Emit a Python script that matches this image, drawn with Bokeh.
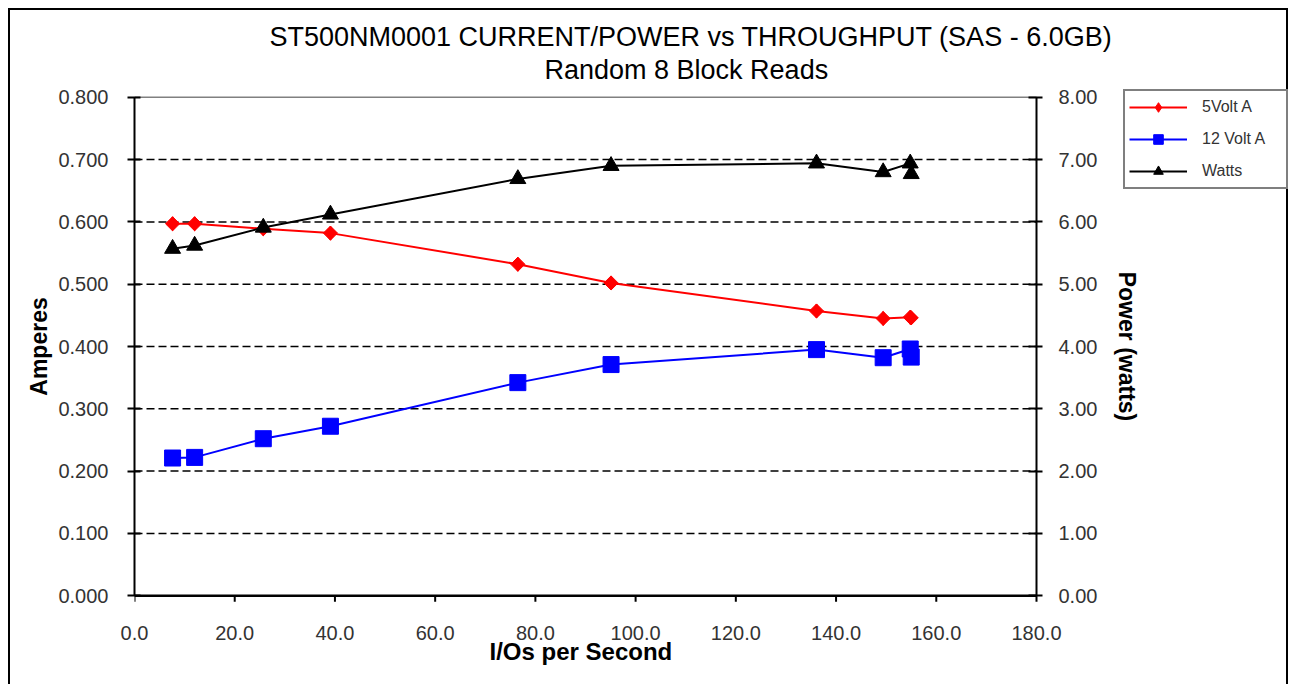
from bokeh.plotting import figure
from bokeh.models import (Range1d, LinearAxis, FixedTicker, NumeralTickFormatter,
                          Legend, LegendItem, Title)
from bokeh.embed import file_html
from bokeh.resources import INLINE

# ---------------- data ----------------
title_line1 = "ST500NM0001 CURRENT/POWER vs THROUGHPUT (SAS - 6.0GB)"
title_line2 = "Random 8 Block Reads"
x_label = "I/Os per Second"
left_label = "Amperes"
right_label = "Power (watts)"

iops = [7.6, 12.0, 25.7, 39.1, 76.5, 95.1, 136.1, 149.4, 154.8, 155.0]
volt5_amps = [0.597, 0.597, 0.589, 0.582, 0.532, 0.502, 0.457, 0.445, 0.447, 0.446]
volt12_amps = [0.221, 0.222, 0.252, 0.272, 0.342, 0.371, 0.395, 0.382, 0.396, 0.383]
watts = [5.57, 5.62, 5.91, 6.12, 6.69, 6.90, 6.94, 6.80, 6.94, 6.77]

series_names = ["5Volt A", "12 Volt A", "Watts"]

x_ticks = [0, 20, 40, 60, 80, 100, 120, 140, 160, 180]
amp_ticks = [0.0, 0.1, 0.2, 0.3, 0.4, 0.5, 0.6, 0.7, 0.8]
amp_grid = [0.1, 0.2, 0.3, 0.4, 0.5, 0.6, 0.7]
watt_ticks = [0, 1, 2, 3, 4, 5, 6, 7, 8]

FONT = "Liberation Sans"

X_MIN, X_MAX = x_ticks[0], x_ticks[-1]
Y_MIN, Y_MAX = amp_ticks[0], amp_ticks[-1]
W_MIN, W_MAX = watt_ticks[0], watt_ticks[-1]

# layout (pixels)
WIDTH, HEIGHT = 1280, 676
B_LEFT, B_RIGHT, B_TOP, B_BOTTOM = 124, 2, 75, 79
FRAME_W = WIDTH - B_LEFT - B_RIGHT
FRAME_H = HEIGHT - B_TOP - B_BOTTOM
DATA_W, DATA_H = 902, 498.4

# the drawable frame is larger than the data box so that the legend and the
# right-hand axis labels (placed at x = 180) are not clipped
x_end = X_MIN + (X_MAX - X_MIN) * FRAME_W / DATA_W
y_pad = (Y_MAX - Y_MIN) * (FRAME_H / DATA_H - 1) / 2
w_pad = y_pad * (W_MAX - W_MIN) / (Y_MAX - Y_MIN)
tick_len = 6 * (Y_MAX - Y_MIN) / DATA_H

p = figure(width=WIDTH, height=HEIGHT,
           x_range=Range1d(X_MIN, x_end), y_range=Range1d(Y_MIN - y_pad, Y_MAX + y_pad),
           output_backend="svg", toolbar_location=None,
           min_border_left=B_LEFT, min_border_right=B_RIGHT,
           min_border_top=B_TOP, min_border_bottom=B_BOTTOM,
           title=title_line1)
p.extra_y_ranges = {"watts": Range1d(W_MIN - w_pad, W_MAX + w_pad)}

p.styles = {"margin-left": "8px", "margin-top": "8px",
            "border-top": "2px solid black", "border-left": "2px solid black",
            "border-right": "2px solid black"}

# titles: added titles stack outward from the frame in the order added
p.title.text_font = FONT
p.title.text_font_size = "27px"
p.title.text_font_style = "normal"
p.title.text_color = "black"
p.title.align = "left"
p.title.offset = 135
p.title.standoff = 0
t2 = Title(text=title_line2, text_font=FONT, text_font_size="27px",
           text_font_style="normal", text_color="black", align="left",
           offset=410, standoff=2)
p.add_layout(t2, "above")

p.outline_line_color = None
p.background_fill_color = "white"
p.border_fill_color = "white"

# grid (only across the data box)
p.xgrid.visible = False
p.ygrid.visible = False
n = len(amp_grid)
p.segment(x0=[X_MIN] * n, y0=amp_grid, x1=[X_MAX] * n, y1=amp_grid,
          line_color="black", line_dash="8 4", line_width=1.5)
p.segment(x0=[X_MIN], y0=[Y_MAX], x1=[X_MAX], y1=[Y_MAX],
          line_color="#808080", line_width=1.5)

# x axis line and tick marks at y = 0
p.segment(x0=[X_MIN], y0=[Y_MIN], x1=[X_MAX], y1=[Y_MIN],
          line_color="black", line_width=2.5)
m = len(x_ticks)
p.segment(x0=x_ticks, y0=[Y_MIN] * m, x1=x_ticks, y1=[Y_MIN - tick_len] * m,
          line_color="black", line_width=2)

# axes
xa = p.xaxis[0]
xa.ticker = FixedTicker(ticks=x_ticks)
xa.formatter = NumeralTickFormatter(format="0.0")
xa.axis_line_color = None
ya = p.yaxis[0]
ya.ticker = FixedTicker(ticks=amp_ticks)
ya.formatter = NumeralTickFormatter(format="0.000")
ya.axis_label = left_label
ya.bounds = (Y_MIN, Y_MAX)

ra = LinearAxis(y_range_name="watts", ticker=FixedTicker(ticks=watt_ticks),
                formatter=NumeralTickFormatter(format="0.00"),
                axis_label=right_label, fixed_location=X_MAX,
                bounds=(W_MIN, W_MAX))
p.add_layout(ra, "right")

for ax in (xa, ya, ra):
    ax.major_tick_line_color = "black"
    ax.major_tick_line_width = 2
    ax.minor_tick_line_color = None
    ax.major_label_text_font = FONT
    ax.major_label_text_font_size = "20px"
    ax.major_label_text_color = "#333333"
    ax.axis_label_text_font = FONT
    ax.axis_label_text_font_size = "23px"
    ax.axis_label_text_font_style = "bold"
    ax.axis_label_text_color = "black"
for ax in (ya, ra):
    ax.axis_line_color = "black"
    ax.axis_line_width = 2

xa.major_tick_line_color = None
xa.major_tick_in = 0
xa.major_tick_out = 0
xa.major_label_standoff = 18

# x axis title, centred under the data box (not under the wider frame)
xt = Title(text=x_label, text_font=FONT, text_font_size="24px",
           text_font_style="bold", text_color="black", align="left",
           offset=355, standoff=-14)
p.add_layout(xt, "below")

ya.major_tick_in = 6
ya.major_tick_out = 7
ya.major_label_standoff = 19
ya.axis_label_standoff = 3

ra.major_tick_in = 8
ra.major_tick_out = 6
ra.major_label_standoff = 16
ra.axis_label_standoff = 14

# series
l5 = p.line(iops, volt5_amps, line_color="#FF0000", line_width=2)
d5 = p.scatter(iops, volt5_amps, marker="diamond", size=14,
               fill_color="#FF0000", line_color="#FF0000")
s5 = p.scatter(iops, volt5_amps, marker="square", angle=0.785398, size=10,
               fill_color="#FF0000", line_color="#FF0000")
l12 = p.line(iops, volt12_amps, line_color="#0000FF", line_width=2)
s12 = p.scatter(iops, volt12_amps, marker="square", size=16,
                fill_color="#0000FF", line_color="#0000FF")
lw = p.line(iops, watts, line_color="black", line_width=2, y_range_name="watts")
sw = p.scatter(iops, watts, marker="triangle", size=16, fill_color="black",
               line_color="black", y_range_name="watts")

# legend bottom-left corner, in pixels from the frame's bottom-left corner
frame_bottom_gap = (FRAME_H - DATA_H) / 2
legend = Legend(items=[LegendItem(label=series_names[0], renderers=[l5, d5]),
                       LegendItem(label=series_names[1], renderers=[l12, s12]),
                       LegendItem(label=series_names[2], renderers=[lw, sw])],
                location=(989, round(406 + frame_bottom_gap)), margin=0,
                padding=4, spacing=8,
                glyph_width=58, glyph_height=24, label_standoff=15,
                label_width=80,
                label_text_font=FONT, label_text_font_size="16px",
                label_text_color="#333333",
                border_line_color="black", border_line_width=2,
                background_fill_color="white", background_fill_alpha=1)
p.add_layout(legend)

open("out.html", "w").write(file_html(p, INLINE))
